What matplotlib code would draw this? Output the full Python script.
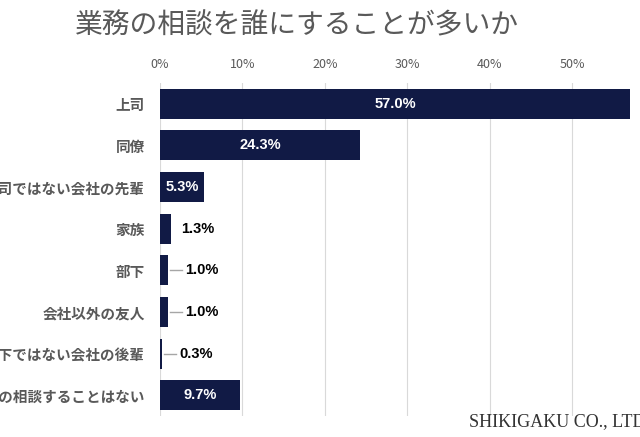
import matplotlib.pyplot as plt
import numpy as np

plt.rcParams['font.family'] = ['Noto Sans CJK JP', 'DejaVu Sans']

categories = ['上司', '同僚', '上司ではない会社の先輩', '家族', '部下',
              '会社以外の友人', '部下ではない会社の後輩', '業務の相談することはない']
values = [57.0, 24.3, 5.3, 1.3, 1.0, 1.0, 0.3, 9.7]
inside = [True, True, True, False, False, False, False, True]
leader = [False, False, False, False, True, True, True, False]
ticks = [0, 10, 20, 30, 40, 50]

navy = '#111a45'
gray = '#595959'

fig = plt.figure(figsize=(6.4, 4.37), dpi=100)
ax = fig.add_axes([0.25, 0.048, 0.747, 0.762])

y = np.arange(len(categories))
ax.barh(y, values, height=0.72, color=navy, zorder=3)
ax.set_ylim(len(categories) - 0.5, -0.5)
ax.set_xlim(0, 58)

ax.set_yticks(y)
ax.set_yticklabels(categories, fontsize=10.5, color=gray, fontweight='bold')
ax.set_xticks(ticks)
ax.set_xticklabels([f'{t}%' for t in ticks], fontsize=9, color=gray)
ax.xaxis.tick_top()
ax.tick_params(axis='both', length=0)
ax.tick_params(axis='x', pad=9)
ax.tick_params(axis='y', pad=11)
ax.grid(axis='x', color='#d9d9d9', linewidth=0.8, zorder=0)
for s in ax.spines.values():
    s.set_visible(False)

for i, v in enumerate(values):
    txt = f'{v:.1f}%'
    if inside[i]:
        ax.text(v / 2, i, txt, ha='center', va='center', color='white',
                fontsize=10.5, fontweight='bold', family='Liberation Sans', zorder=4)
    elif leader[i]:
        ax.plot([v + 0.2, v + 1.7], [i, i], color='#a6a6a6', linewidth=1, zorder=4)
        ax.text(v + 2.0, i, txt, ha='left', va='center', color='black',
                fontsize=10.5, fontweight='bold', family='Liberation Sans')
    else:
        ax.text(v + 1.3, i, txt, ha='left', va='center', color='black',
                fontsize=10.5, fontweight='bold', family='Liberation Sans')

fig.text(0.117, 0.943, '業務の相談を誰にすることが多いか', fontsize=20,
         color=gray, va='center', ha='left')
fig.text(0.733, 0.036, 'SHIKIGAKU CO., LTD', fontsize=13, color='#333333',
         family='Liberation Serif', va='center', ha='left')

fig.savefig('out.png', dpi=100)
plt.close()
